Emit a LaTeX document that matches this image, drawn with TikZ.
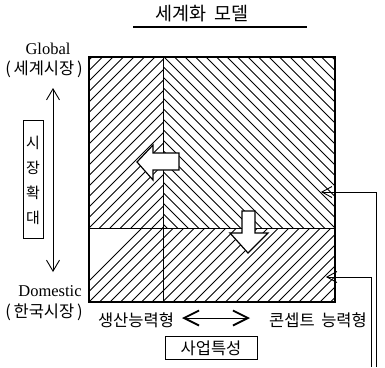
\documentclass[tikz,border=0pt]{standalone}
\usepackage{fontspec}
\newfontfamily\kr{Noto Sans CJK KR}
\newfontfamily\enserif{Liberation Serif}
\usetikzlibrary{arrows.meta}
\begin{document}
\begin{tikzpicture}[x=1pt,y=-1pt,
  hatch/.style={line width=0.8pt},
  frame/.style={line width=1.4pt},
  divider/.style={line width=0.9pt},
  blockarrow/.style={draw, line width=1.2pt, fill=white, line join=miter},
  krlabel/.style={font=\kr\fontsize{16.5}{17}\selectfont, inner sep=0pt},
  enlabel/.style={font=\enserif\fontsize{16.5}{17}\selectfont, inner sep=0pt},
  thinarrow/.style={line width=0.9pt}
]
\useasboundingbox (0,0) rectangle (385,367);

% corner coordinates of the square
\coordinate (TL) at (89,57);
\coordinate (TR) at (335,57);
\coordinate (BL) at (89,302);
\coordinate (BR) at (335,302);
\coordinate (midT) at (163,57);
\coordinate (midB) at (163,302);
\coordinate (divL) at (89,228);
\coordinate (divR) at (335,228);

% hatching
\begin{scope}
  \clip (89,57) rectangle (163,228);
  \foreach \i in {-20,...,9} \draw[hatch] (89+\i*10.5,228) -- ++(220,-220);
\end{scope}
\begin{scope}
  \clip (163,57) rectangle (335,228);
  \foreach \i in {-19,...,18} \draw[hatch] (164+\i*10.5,57) -- ++(220,220);
\end{scope}
\begin{scope}
  \clip (89,228) rectangle (335,302);
  \foreach \i in {-2,...,24} \draw[hatch] (89+\i*10.5,302) -- ++(100,-100);
\end{scope}

% dividers and frame
\draw[divider] (midT) -- (midB);
\draw[divider] (divL) -- (divR);
\draw[frame] (TL) rectangle (BR);

% block arrow pointing left
\draw[blockarrow] (137,162) -- (153,145) -- (153,153) -- (179,153) -- (179,170) -- (153,170) -- (153,180) -- cycle;
% block arrow pointing down
\draw[blockarrow] (242,211) -- (255,211) -- (255,233) -- (268,233) -- (248,253) -- (230,233) -- (242,233) -- cycle;

% title
\node[krlabel, font=\kr\fontsize{18.5}{19}\selectfont] (title) at (202,14) {세계화\hspace{0.45em}모델};
\coordinate (ulL) at (133,27);
\coordinate (ulR) at (307,27);
\draw[line width=1.3pt] (ulL) -- (ulR);

% left labels
\node[enlabel] (global) at (48,49) {Global};
\node[krlabel] (globalkr) at (44,69) {(\,세계시장\,)};
\node[enlabel] (domestic) at (50,291) {Domestic};
\node[krlabel] (domkr) at (44,312) {(\,한국시장\,)};

% vertical double arrow
\coordinate (vTop) at (53,88);
\coordinate (vBot) at (53,272);
\draw[thinarrow, {Straight Barb[length=11pt,width=13pt]}-{Straight Barb[length=11pt,width=13pt]}] (vTop) -- (vBot);

% vertical box
\node[draw, line width=1pt, minimum width=20pt, minimum height=118pt, inner sep=0pt] (vbox) at (33,179) {};
\node[krlabel, font=\kr\fontsize{15}{15}\selectfont] (c1) at (33,143) {시};
\node[krlabel, font=\kr\fontsize{15}{15}\selectfont] (c2) at (33,168) {장};
\node[krlabel, font=\kr\fontsize{15}{15}\selectfont] (c3) at (33,193) {확};
\node[krlabel, font=\kr\fontsize{15}{15}\selectfont] (c4) at (33,218) {대};

% bottom labels
\node[krlabel] (prod) at (136,320) {생산능력형};
\node[krlabel] (concept) at (318,320) {콘셉트\hspace{0.4em}능력형};
\coordinate (hL) at (182,318);
\coordinate (hR) at (250,318);
\draw[line width=1pt, {Straight Barb[length=15pt,width=15pt,line width=1.8pt]}-{Straight Barb[length=15pt,width=15pt,line width=1.8pt]}] (hL) -- (hR);
\node[draw, line width=0.9pt, minimum width=92pt, minimum height=23pt, krlabel] (biz) at (211,348) {사업특성};

% right connectors
\coordinate (r1tip) at (321,192);
\coordinate (r1c) at (376,192);
\coordinate (r1e) at (376,367);
\coordinate (r2tip) at (326,277);
\coordinate (r2c) at (371,277);
\coordinate (r2e) at (371,367);
\draw[thinarrow, {Straight Barb[length=10pt,width=11pt]}-] (r1tip) -- (r1c) -- (r1e);
\draw[thinarrow, {Straight Barb[length=10pt,width=11pt]}-] (r2tip) -- (r2c) -- (r2e);
\end{tikzpicture}
\end{document}
